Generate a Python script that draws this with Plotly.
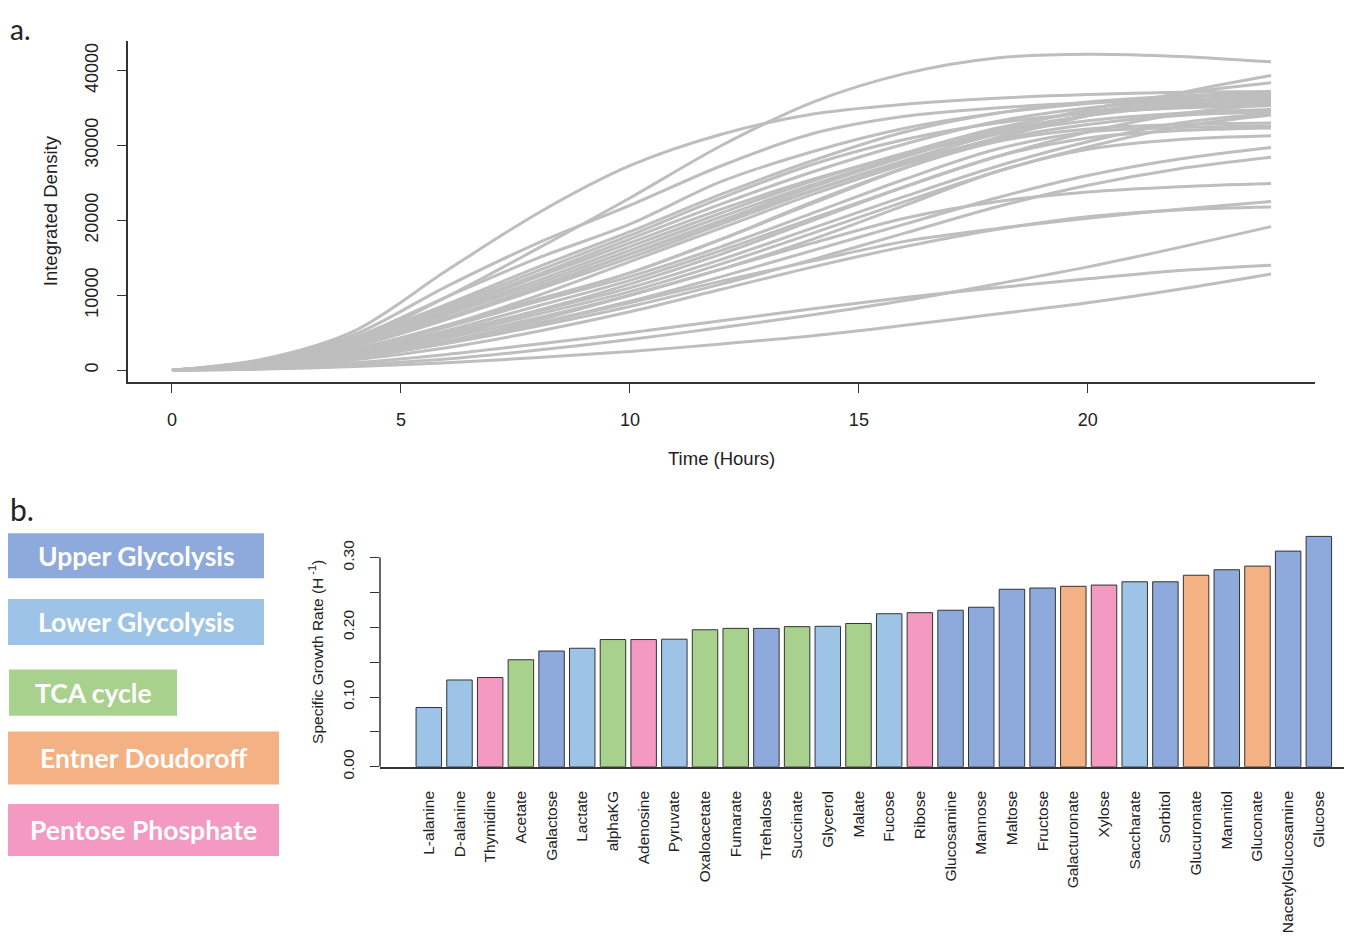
import plotly.graph_objects as go

# ---------------- data: panel a (growth curves) ----------------
time_h = [0, 2, 4, 6, 8, 10, 12, 14, 16, 18, 20, 22, 24]

curve_T1 = [0, 1200, 4000, 9800, 16300, 23000, 30000, 35800, 39600, 41700, 42200, 41900, 41170]
curve_P1 = [0, 1500, 5300, 13300, 21000, 27300, 31500, 34200, 35500, 36300, 36800, 37100, 37200]
curve_P2 = [0, 1400, 4800, 11200, 17000, 22000, 27300, 31600, 33900, 35000, 35700, 36100, 36300]
curve_Q1 = [0, 1300, 4400, 9800, 15000, 19500, 25200, 29200, 32300, 34300, 35600, 36400, 36900]
curve_R1 = [0, 800, 2800, 6000, 10000, 14500, 19000, 23500, 27500, 31000, 34000, 37000, 39340]
curve_R2 = [0, 900, 3200, 6800, 11000, 15500, 20000, 24500, 28500, 32000, 34800, 36900, 38380]
curve_B1 = [0, 1200, 4200, 8800, 13800, 18500, 23500, 28000, 31800, 34300, 35800, 36600, 37000]
curve_B2 = [0, 1100, 4000, 8500, 13300, 18000, 23000, 27500, 30800, 33000, 34300, 35000, 35300]
curve_B3 = [0, 1100, 3900, 8200, 12800, 17500, 22200, 26500, 30200, 33200, 35000, 36000, 36500]
curve_B4 = [0, 1000, 3700, 8000, 12500, 17000, 21500, 25500, 28800, 31500, 33300, 34300, 34800]
curve_B5 = [0, 1000, 3600, 7700, 12000, 16500, 21000, 25300, 29000, 32300, 34500, 35700, 36200]
curve_B6 = [0, 1000, 3500, 7400, 11600, 16000, 20500, 24800, 28600, 31800, 34000, 35200, 35700]
curve_B7 = [0, 900, 3300, 7000, 11200, 15500, 19800, 24000, 27800, 30800, 32800, 34000, 34500]
curve_B8 = [0, 900, 3200, 6800, 10800, 15000, 19500, 24000, 28000, 31500, 34000, 35400, 36000]
curve_B10 = [0, 800, 2700, 5800, 9300, 13000, 17500, 22300, 27000, 31000, 34000, 35800, 36700]
curve_B11 = [0, 700, 2500, 5300, 8600, 12000, 16000, 20300, 24500, 28500, 31800, 34200, 35500]
curve_B12 = [0, 700, 2300, 4900, 7900, 11000, 14800, 19000, 23200, 27200, 30500, 33000, 34300]
curve_B13 = [0, 600, 2100, 4600, 7500, 10500, 14200, 18300, 22500, 26500, 29800, 32500, 34060]
curve_L1 = [0, 800, 2800, 6000, 9500, 13000, 17500, 22500, 27000, 30500, 32200, 32800, 33000]
curve_L2 = [0, 800, 2700, 5800, 9200, 12500, 16500, 21000, 25500, 29500, 31800, 32400, 32600]
curve_L3 = [0, 700, 2400, 5000, 8000, 11500, 15500, 20000, 24500, 28500, 31000, 32000, 32350]
curve_L4 = [0, 600, 2000, 4300, 7000, 10000, 13500, 17500, 22000, 26500, 29500, 30800, 31300]
curve_L5 = [0, 500, 1800, 3800, 6300, 9200, 12500, 16000, 19500, 23000, 26000, 28200, 29740]
curve_L6 = [0, 500, 1700, 3600, 5900, 8500, 11500, 14800, 18300, 21800, 24700, 26900, 28430]
curve_E = [0, 500, 1800, 3900, 6700, 10000, 13500, 17000, 20300, 22500, 23800, 24500, 24930]
curve_D1 = [0, 500, 1700, 3600, 6200, 9000, 11900, 14600, 17200, 18900, 20300, 21500, 22530]
curve_D2 = [0, 400, 1400, 3000, 5200, 7800, 10800, 13800, 16500, 18800, 20500, 21400, 21790]
curve_C = [0, 200, 700, 1500, 2700, 4100, 5700, 7400, 9300, 11500, 13800, 16400, 19170]
curve_B = [0, 300, 1000, 2100, 3500, 5000, 6600, 8200, 9700, 11000, 12200, 13300, 14020]
curve_A = [0, 150, 500, 1000, 1700, 2500, 3500, 4600, 6000, 7500, 9000, 10800, 12840]

curves = [curve_T1, curve_P1, curve_P2, curve_Q1, curve_R1, curve_R2,
          curve_B1, curve_B2, curve_B3, curve_B4, curve_B5, curve_B6, curve_B7,
          curve_B8, curve_B10, curve_B11, curve_B12, curve_B13,
          curve_L1, curve_L2, curve_L3, curve_L4, curve_L5, curve_L6,
          curve_E, curve_D1, curve_D2, curve_C, curve_B, curve_A]

x_ticks_a = [0, 5, 10, 15, 20]
y_ticks_a = [0, 10000, 20000, 30000, 40000]
y_ticktext_a = ["0", "10000", "20000", "30000", "40000"]

# ---------------- data: panel b (growth rates) ----------------
substrates = ["L-alanine", "D-alanine", "Thymidine", "Acetate", "Galactose", "Lactate",
              "alphaKG", "Adenosine", "Pyruvate", "Oxaloacetate", "Fumarate", "Trehalose",
              "Succinate", "Glycerol", "Malate", "Fucose", "Ribose", "Glucosamine",
              "Mannose", "Maltose", "Fructose", "Galacturonate", "Xylose", "Saccharate",
              "Sorbitol", "Glucuronate", "Mannitol", "Gluconate", "NacetylGlucosamine",
              "Glucose"]
growth_rate = [0.085, 0.1245, 0.128, 0.1535, 0.166, 0.170, 0.1825, 0.1825, 0.183,
               0.1965, 0.1985, 0.1985, 0.201, 0.2015, 0.2055, 0.2195, 0.221, 0.2245,
               0.2288, 0.2546, 0.2564, 0.2588, 0.2606, 0.2653, 0.2653, 0.2747, 0.2826,
               0.2878, 0.3093, 0.3304]
pathway = ["Lower Glycolysis", "Lower Glycolysis", "Pentose Phosphate", "TCA cycle",
           "Upper Glycolysis", "Lower Glycolysis", "TCA cycle", "Pentose Phosphate",
           "Lower Glycolysis", "TCA cycle", "TCA cycle", "Upper Glycolysis", "TCA cycle",
           "Lower Glycolysis", "TCA cycle", "Lower Glycolysis", "Pentose Phosphate",
           "Upper Glycolysis", "Upper Glycolysis", "Upper Glycolysis", "Upper Glycolysis",
           "Entner Doudoroff", "Pentose Phosphate", "Lower Glycolysis", "Upper Glycolysis",
           "Entner Doudoroff", "Upper Glycolysis", "Entner Doudoroff", "Upper Glycolysis",
           "Upper Glycolysis"]
legend_names = ["Upper Glycolysis", "Lower Glycolysis", "TCA cycle",
                "Entner Doudoroff", "Pentose Phosphate"]
legend_colors = ["#8EA9DB", "#9DC3E6", "#A9D18E", "#F4B183", "#F499C2"]

# ---------------- layout helpers ----------------
# page body adds an 8px margin on every side; the figure fills the rest of the window
OFF = 8
W, H = 1352 - 2 * OFF, 941 - 2 * OFF
def px(x):
    return (x - OFF) / W
def py(y):
    return 1 - (y - OFF) / H

AX = "#333333"
FONT = "Arial, Liberation Sans, sans-serif"
BOXFONT = "Lato, Open Sans, sans-serif"
color_map = dict(zip(legend_names, legend_colors))

fig = go.Figure()

for c in curves:
    fig.add_trace(go.Scatter(x=time_h, y=c, mode="lines",
                             line=dict(color="#BEBEBE", width=3, shape="spline", smoothing=0.9),
                             hoverinfo="skip", showlegend=False, xaxis="x", yaxis="y"))

fig.add_trace(go.Bar(x=substrates, y=growth_rate,
                     marker=dict(color=[color_map[p] for p in pathway],
                                 line=dict(color="#333333", width=1)),
                     width=0.83, showlegend=False, xaxis="x2", yaxis="y2"))

fig.update_layout(
    width=W, height=H, margin=dict(l=0, r=0, t=0, b=0),
    paper_bgcolor="white", plot_bgcolor="white",
    font=dict(family=FONT, color="#222222"),
    xaxis=dict(domain=[px(128), px(1315)], range=[-0.96, 24.96],
               tickvals=x_ticks_a, ticks="outside", ticklen=9, tickcolor=AX, tickwidth=1.3,
               showline=True, linecolor=AX, linewidth=1.5, showgrid=False, zeroline=False,
               tickfont=dict(size=18, family=FONT, color="#222"), ticklabelstandoff=12,
               anchor="y"),
    yaxis=dict(domain=[py(389), py(42)], range=[-1573, 43906],
               tickvals=y_ticks_a, ticktext=y_ticktext_a, ticks="outside", ticklen=9,
               tickcolor=AX, tickwidth=1.3,
               showline=True, linecolor=AX, linewidth=1.5, showgrid=False, zeroline=False,
               tickangle=-90, tickfont=dict(size=18, family=FONT, color="#222"),
               ticklabelstandoff=12, anchor="x"),
    xaxis2=dict(domain=[px(380), 1.0], range=[-1.59, 30.08 - OFF / 30.69], type="category",
                ticks="", showline=True, linecolor=AX, linewidth=2, showgrid=False,
                zeroline=False, tickangle=-90, tickfont=dict(size=15.5, family=FONT, color="#222"),
                ticklabelstandoff=16, anchor="y2"),
    yaxis2=dict(domain=[py(781), py(535)], range=[0, 0.3463],
                tick0=0, dtick=0.1, tickformat=".2f", ticks="outside", ticklen=9,
                tickcolor=AX, tickwidth=1.3, showline=False, showgrid=False, zeroline=False,
                minor=dict(tick0=0, dtick=0.05, ticks="outside", ticklen=9, tickcolor=AX,
                           tickwidth=1.3, showgrid=False),
                tickangle=-90, tickfont=dict(size=15.5, family=FONT, color="#222"),
                ticklabelstandoff=10, anchor="x2"),
    bargap=0.17,
)

shapes = [dict(type="line", xref="paper", yref="y2", x0=px(380), x1=px(380), y0=0, y1=0.30,
               line=dict(color=AX, width=1.5))]
annotations = [
    dict(text="Time (Hours)", x=px(721), y=py(467), xref="paper", yref="paper",
         xanchor="center", yanchor="middle",
         showarrow=False, font=dict(size=18.5, family=FONT, color="#222")),
    dict(text="Integrated Density", x=px(50), y=py(215), xref="paper", yref="paper",
         xanchor="center", yanchor="middle",
         showarrow=False, textangle=-90, font=dict(size=18.5, family=FONT, color="#222")),
    dict(text="Specific Growth Rate (H<sup> -1</sup>)", x=px(316), y=py(664), xref="paper",
         yref="paper", xanchor="center", yanchor="middle", showarrow=False, textangle=-90,
         font=dict(size=15.5, family=FONT, color="#222")),
    dict(text="a.", x=px(8), y=py(10), xref="paper", yref="paper", xanchor="left",
         yanchor="top", showarrow=False, font=dict(size=28, family=BOXFONT, color="#222")),
    dict(text="b.", x=px(8), y=py(518), xref="paper", yref="paper", xanchor="left",
         yanchor="middle", showarrow=False, font=dict(size=30, family=BOXFONT, color="#222")),
]

box_px = [(8, 264, 543, 589), (8, 264, 610, 657), (9, 177, 682, 729),
          (8, 279, 745, 799), (8, 279, 819, 872)]
for name, col, (x0, x1, y0, y1) in zip(legend_names, legend_colors, box_px):
    shapes.append(dict(type="rect", xref="paper", yref="paper", x0=px(x0), x1=px(x1),
                       y0=py(y1), y1=py(y0), fillcolor=col, line=dict(width=0)))
    annotations.append(dict(text="<b>" + name + "</b>", x=px((x0 + x1) / 2),
                            y=py((y0 + y1) / 2), xref="paper", yref="paper",
                            xanchor="center", yanchor="middle",
                            showarrow=False, font=dict(size=26.5, family=BOXFONT, color="white")))

fig.update_layout(shapes=shapes, annotations=annotations)
fig.write_html("out.html")
